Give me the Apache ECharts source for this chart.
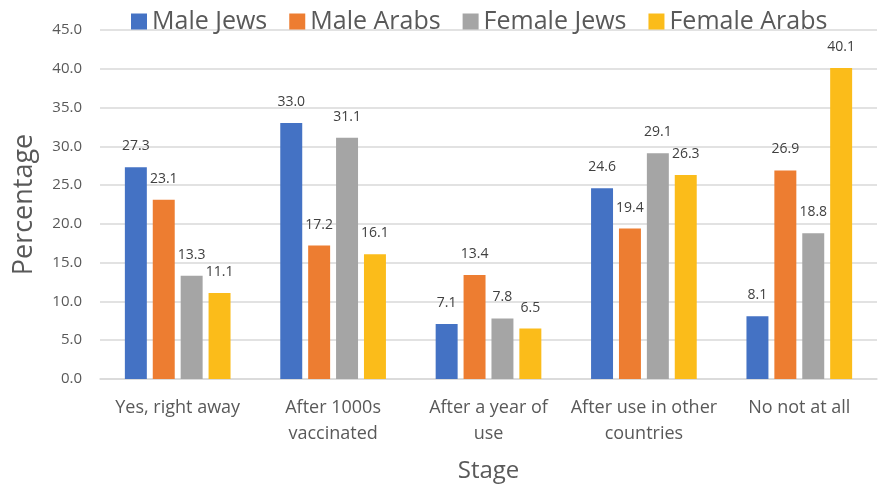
<!DOCTYPE html>
<html>
<head>
<meta charset="utf-8">
<script src="https://cdn.jsdelivr.net/npm/echarts@6/dist/echarts.min.js"></script>
<style>
  html, body { margin: 0; padding: 0; background: #fff; }
  #chart { width: 879px; height: 488px; }
</style>
</head>
<body>
<div id="chart"></div>
<script>
const categories = ['Yes, right away', 'After 1000s\nvaccinated', 'After a year of\nuse', 'After use in other\ncountries', 'No not at all'];
const maleJews = [27.3, 33.0, 7.1, 24.6, 8.1];
const maleArabs = [23.1, 17.2, 13.4, 19.4, 26.9];
const femaleJews = [13.3, 31.1, 7.8, 29.1, 18.8];
const femaleArabs = [11.1, 16.1, 6.5, 26.3, 40.1];

const seriesNames = ['Male Jews', 'Male Arabs', 'Female Jews', 'Female Arabs'];
const seriesData = [maleJews, maleArabs, femaleJews, femaleArabs];
const colors = ['#4472c4', '#ed7d31', '#a5a5a5', '#fbbc1a'];

const font = 'Open Sans, Noto Sans, sans-serif';

let chart = echarts.init(document.getElementById('chart'));
let option = {
  color: colors,
  textStyle: { fontFamily: font },
  legend: {
    top: 4,
    left: 126,
    itemWidth: 16,
    itemHeight: 16,
    itemGap: 22,
    icon: 'rect',
    textStyle: { fontSize: 25, color: '#595959', fontFamily: font },
    data: seriesNames
  },
  grid: { left: 100, right: 2, top: 30, bottom: 108 },
  xAxis: {
    type: 'category',
    data: categories,
    name: 'Stage',
    nameLocation: 'middle',
    nameGap: 80,
    nameTextStyle: { fontSize: 24, color: '#595959', fontFamily: font },
    axisTick: { show: false },
    axisLine: { lineStyle: { color: '#d9d9d9', width: 1.5 } },
    axisLabel: { fontSize: 18, color: '#595959', margin: 16, lineHeight: 26, interval: 0, fontFamily: font }
  },
  yAxis: {
    type: 'value',
    min: 0,
    max: 45,
    interval: 5,
    name: 'Percentage',
    nameLocation: 'middle',
    nameGap: 62,
    nameTextStyle: { fontSize: 27, color: '#595959', fontFamily: font },
    axisLine: { show: false },
    axisTick: { show: false },
    splitLine: { lineStyle: { color: '#d9d9d9', width: 1.5 } },
    axisLabel: { fontSize: 15, color: '#595959', margin: 18, fontFamily: font, formatter: v => v.toFixed(1) }
  },
  series: seriesNames.map((name, i) => ({
    name: name,
    type: 'bar',
    data: seriesData[i],
    barGap: '27%',
    barCategoryGap: '32%',
    label: {
      show: true,
      position: 'top',
      distance: 14,
      fontSize: 14,
      color: '#404040',
      fontFamily: font,
      formatter: p => p.value.toFixed(1)
    }
  }))
};
chart.setOption(option);
</script>
</body>
</html>
